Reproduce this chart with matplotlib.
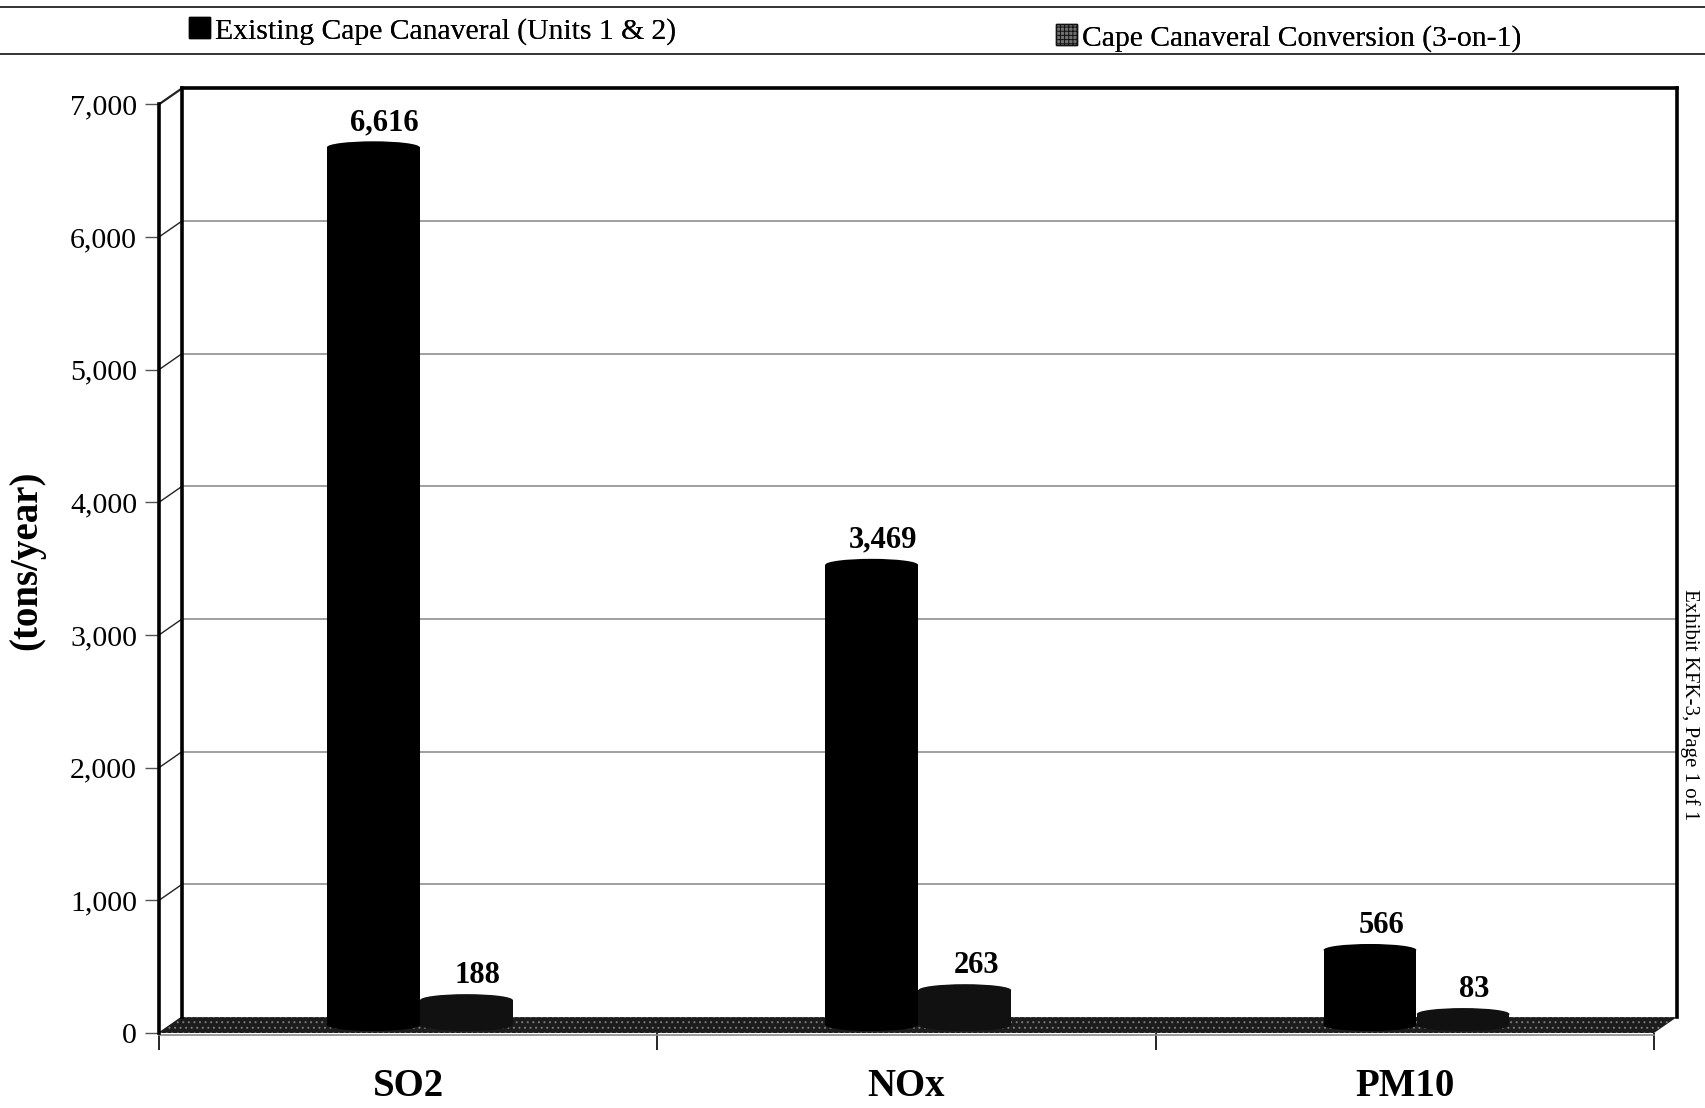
import matplotlib
matplotlib.use("Agg")
import matplotlib.pyplot as plt
from matplotlib.patches import Ellipse, Polygon, Patch
from matplotlib.lines import Line2D

# Annual emissions, tons/year
pollutants = ["SO2", "NOx", "PM10"]
existing_units = [6616, 3469, 566]
conversion_3on1 = [188, 263, 83]
series_names = ["Existing Cape Canaveral (Units 1 & 2)",
                "Cape Canaveral Conversion (3-on-1)"]
y_ticks = [0, 1000, 2000, 3000, 4000, 5000, 6000, 7000]

plt.rcParams["font.family"] = ["Liberation Serif", "DejaVu Serif"]

W, H = 1706, 1108
fig = plt.figure(figsize=(W / 100, H / 100), dpi=100)
ax = fig.add_axes([159 / W, 75 / H, 1495 / W, 928.7 / H])
ax.set_xlim(0, 3)
ax.set_ylim(0, 7000)
ax.patch.set_visible(False)
for s in ax.spines.values():
    s.set_visible(False)

# depth of the pseudo-3D box (data units) and cylinder cap height
DX, DY = 0.046, 120
CAP = 90
BAR_W = 0.186
OFFSETS = (-0.07, 0.117)  # bar centres relative to category centre

# back wall gridlines
for v in y_ticks[1:-1]:
    ax.plot([DX, 3 + DX], [v + DY, v + DY], color="#8f8f8f", lw=1.2,
            zorder=1, clip_on=False)
# left wall connectors at each tick
for v in y_ticks:
    ax.plot([0, DX], [v, v + DY], color="#222222",
            lw=1.6 if v == y_ticks[-1] else 1.0, zorder=2, clip_on=False)
# box edges
edge = dict(color="black", lw=2.6, zorder=3, clip_on=False, solid_capstyle="projecting")
ax.plot([0, 0], [0, 7000], **edge)
ax.plot([DX, DX], [DY, 7000 + DY], **edge)
ax.plot([DX, 3 + DX], [7000 + DY, 7000 + DY], **edge)
ax.plot([3 + DX, 3 + DX], [DY, 7000 + DY], **edge)

# floor
floor = [(0, 0), (3, 0), (3 + DX, DY), (DX, DY)]
ax.add_patch(Polygon(floor, closed=True, fc="#1c1c1c", ec="none",
                     zorder=2, clip_on=False))
plt.rcParams["hatch.linewidth"] = 0.7
ax.add_patch(Polygon(floor, closed=True, fc="none", ec="#7a7a7a", lw=0,
                     hatch="...", zorder=2, clip_on=False))
ax.plot([0, 3], [-12, -12], color="#888888", lw=1.2, zorder=2, clip_on=False)


def cylinders(xs, values, color):
    base = DY / 2
    ax.bar(xs, values, width=BAR_W, bottom=base, color=color,
           zorder=4, clip_on=False)
    for x, v in zip(xs, values):
        for yc in (base, base + v):
            ax.add_patch(Ellipse((x, yc), BAR_W, CAP, fc=color, ec="none",
                                 zorder=4, clip_on=False))
        ax.annotate(f"{v:,}", xy=(x + DX / 2, base + v + CAP / 2),
                    xytext=(0, 8), textcoords="offset points",
                    ha="center", va="baseline", fontsize=22,
                    fontweight="bold", zorder=6, annotation_clip=False)


centres = [i + 0.5 for i in range(len(pollutants))]
cylinders([c + OFFSETS[0] for c in centres], existing_units, "#000000")
cylinders([c + OFFSETS[1] for c in centres], conversion_3on1, "#111111")

# axes ticks
ax.set_yticks(y_ticks)
ax.set_yticklabels([f"{v:,}" for v in y_ticks])
ax.tick_params(axis="y", direction="out", length=10, width=1.0,
               color="#555555", pad=5.8, labelsize=21.5)
ax.set_xticks([0, 1, 2, 3])
ax.set_xticklabels([])
ax.set_xticks(centres, minor=True)
ax.set_xticklabels(pollutants, minor=True, fontsize=28, fontweight="bold")
ax.tick_params(axis="x", which="major", direction="out", length=12, width=1.2)
ax.tick_params(axis="x", which="minor", length=0, pad=25)

fig.text(27 / W, 1 - 560 / H, "(tons/year)", rotation=90, fontsize=28,
         fontweight="bold", ha="center", va="center")

# legend strip: one entry on each side
swatches = [Patch(fc="black", ec="black"),
            Patch(fc="#707070", ec="#111111", hatch="++++")]
anchors = [(189 / W, 1 - 31 / H), (1056 / W, 1 - 38 / H)]
for sw, name, anchor in zip(swatches, series_names, anchors):
    leg = fig.legend([sw], [name], loc="center left", bbox_to_anchor=anchor,
                     frameon=False, fontsize=21.3, handlelength=0.72,
                     handleheight=0.7, handletextpad=0.15, borderpad=0,
                     borderaxespad=0)
    fig.add_artist(leg)
for yy in (7, 54):
    fig.add_artist(Line2D([0, 1], [1 - yy / H] * 2, transform=fig.transFigure,
                          color="#333333", lw=1.4))

fig.text(1690 / W, 1 - 705 / H, "Exhibit KFK-3, Page 1 of 1", rotation=-90,
         fontsize=15, ha="center", va="center")

fig.savefig("out.png", dpi=100)
